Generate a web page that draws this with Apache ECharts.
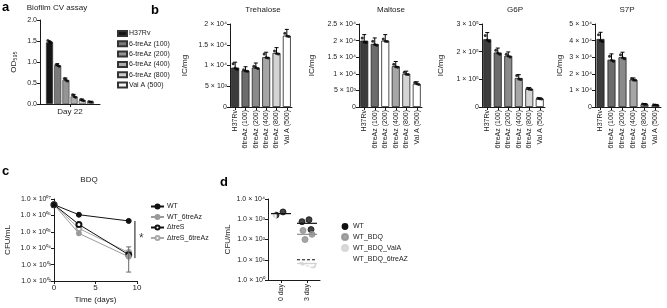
<!DOCTYPE html>
<html><head><meta charset="utf-8">
<script src="https://cdn.jsdelivr.net/npm/echarts@6/dist/echarts.min.js"></script>
<style>html,body{margin:0;padding:0;background:#fff}#c{width:667px;height:308px}</style>
</head><body><div id="c"></div>
<script>
// ---------- Panel a: Biofilm CV assay ----------
const aCategory = ['Day 22'];
const aNames = ['H37Rv', '6-treAz (100)', '6-treAz (200)', '6-treAz (400)', '6-treAz (800)', 'Val A (500)'];
const aMeans = [1.47, 0.92, 0.57, 0.18, 0.09, 0.05];
const aSD = [0.03, 0.04, 0.05, 0.05, 0.03, 0.01];
const aReps = [[1.51, 1.48, 1.47], [0.94, 0.92, 0.90], [0.61, 0.57, 0.55], [0.22, 0.18, 0.16], [0.11, 0.09, 0.08], [0.06, 0.05, 0.05]];
const aYTickLabels = ['0.0', '0.5', '1.0', '1.5', '2.0'];

// ---------- Panel b ----------
const bCats = ['H37Rv', '6treAz (100)', '6treAz (200)', '6treAz (400)', '6treAz (800)', 'Val A (500)'];
const treMeans = [9500, 8800, 9500, 12000, 13000, 17200];
const treSD = [1300, 900, 1100, 1200, 1300, 1500];
const treReps = [[10400, 9400, 9100], [9000, 8700, 8600], [9800, 9500, 9300], [12800, 11900, 11800], [13500, 12900, 12800], [17800, 17100, 17000]];
const treTickLabels = ['0', '5 × 10³', '1 × 10⁴', '1.5 × 10⁴', '2 × 10⁴'];

const malMeans = [20000, 19000, 20000, 12300, 10000, 7000];
const malSD = [1800, 1800, 1800, 1400, 800, 600];
const malReps = [[20800, 19600, 19400], [19800, 18800, 18600], [20500, 19800, 19700], [12900, 12100, 12000], [10500, 9900, 9800], [7400, 7000, 6800]];
const malTickLabels = ['0', '5 × 10³', '1 × 10⁴', '1.5 × 10⁴', '2 × 10⁴', '2.5 × 10⁴'];

const g6pMeans = [245000, 197000, 185000, 105000, 65000, 30000];
const g6pSD = [24000, 16000, 14000, 12000, 5000, 3000];
const g6pReps = [[258000, 242000, 238000], [205000, 195000, 191000], [191000, 184000, 181000], [114000, 101000, 99000], [68000, 64000, 63000], [32000, 30000, 29000]];
const g6pTickLabels = ['0', '1 × 10⁵', '2 × 10⁵', '3 × 10⁵'];

const s7pMeans = [41000, 28500, 30000, 16500, 1600, 1200];
const s7pSD = [4000, 3500, 3000, 1000, 500, 300];
const s7pReps = [[43500, 40000, 39500], [30500, 28200, 27600], [31500, 29600, 29000], [17200, 16300, 16100], [1800, 1500, 1500], [1300, 1200, 1100]];
const s7pTickLabels = ['0', '1 × 10⁴', '2 × 10⁴', '3 × 10⁴', '4 × 10⁴', '5 × 10⁴'];

// ---------- Panel c: BDQ ----------
const cDays = [0, 3, 9];
const cWT = [4.5e6, 1.1e6, 4.6e5];
const cWT6 = [4.5e6, 8.0e4, 3.0e3];
const cTreS = [4.5e6, 2.8e5, 4.0e3];
const cTreS6 = [4.5e6, 1.6e5, 5.5e3];
const cErrDay = 9;
const cErrRange = [350, 1.2e4];
const cSigX = 9.75;
const cSigRange = [4.6e5, 2.5e3];
const cSigStarY = 4.0e4;
const cYTickLabels = ['1.0 × 10⁰²', '1.0 × 10⁰³', '1.0 × 10⁰⁴', '1.0 × 10⁰⁵', '1.0 × 10⁰⁶', '1.0 × 10⁰⁷'];
const cNames = ['WT', 'WT_6treAz', 'ΔtreS', 'ΔtreS_6treAz'];

// ---------- Panel d ----------
const dCats = ['0 day', '3 day'];
const dNames = ['WT', 'WT_BDQ', 'WT_BDQ_ValA', 'WT_BDQ_6treAZ'];
const dWT = { '0 day': [2300, 1600], '3 day': [950, 760, 310] };
const dBDQ = { '0 day': [], '3 day': [280, 180, 100] };
const dValA = { '0 day': [], '3 day': [7.5, 6.5, 5.5] };
const d6tre = { '0 day': [1450], '3 day': [12, 8.5, 7] };
const dWTMed = [1900, 630];
const dBDQMed = [null, 180];
const dValAMed = [null, 6.5];
const d6treMed = [null, 10];
const dYTickLabels = ['1.0 × 10⁰', '1.0 × 10¹', '1.0 × 10²', '1.0 × 10³', '1.0 × 10⁴'];

// ---------- styles ----------
const FF = 'Liberation Sans, Arial, Helvetica, sans-serif';
const INK = '#1a1a1a';
const axLine = { show: true, lineStyle: { color: INK, width: 1 } };
const axTick = { show: true, length: 3, lineStyle: { color: INK, width: 1 } };
const lbl = (extra) => Object.assign({ fontSize: 7, color: '#222', fontFamily: FF, margin: 3, overflow: 'none', hideOverlap: false }, extra || {});
const aColors = ['#161616', '#7a7a7a', '#959595', '#adadad', '#cfcfcf', '#f4f4f4'];
const bColors = ['#3c3c3c', '#6c6c6c', '#8a8a8a', '#a6a6a6', '#d4d4d4', '#ffffff'];
const jit = [-2, 0, 2];

function valAxis(gi, min, max, interval, labels, name, nameGap, offset) {
  return {
    type: 'value', gridIndex: gi, min, max, interval,
    axisLine: axLine, axisTick: axTick, splitLine: { show: false },
    axisLabel: lbl({ formatter: v => labels[Math.round((v - min) / interval)] }),
    name, nameLocation: 'middle', nameGap, nameRotate: 90,
    nameTextStyle: { fontSize: 8, fontFamily: FF, color: '#222' },
    offset: offset || 0
  };
}
function logAxis(gi, min, max, labels, name, nameGap) {
  const e0 = Math.round(Math.log10(min));
  return {
    type: 'log', logBase: 10, gridIndex: gi, min, max,
    axisLine: axLine, axisTick: axTick, splitLine: { show: false }, minorTick: { show: false },
    axisLabel: lbl({ formatter: v => labels[Math.round(Math.log10(v)) - e0] }),
    name, nameLocation: 'middle', nameGap, nameRotate: 90,
    nameTextStyle: { fontSize: 8, fontFamily: FF, color: '#222' }
  };
}
function errRender(capW, offStep, offCenter) {
  return function (params, api) {
    const x = api.value(0), m = api.value(1), s = api.value(2);
    const off = offStep ? (api.value(3) - offCenter) * offStep : 0;
    const p0 = api.coord([x, m]), p1 = api.coord([x, m + s]);
    const xx = p0[0] + off;
    return { type: 'group', children: [
      { type: 'line', shape: { x1: xx, y1: p0[1], x2: xx, y2: p1[1] }, style: { stroke: '#000', lineWidth: 1 } },
      { type: 'line', shape: { x1: xx - capW, y1: p1[1], x2: xx + capW, y2: p1[1] }, style: { stroke: '#000', lineWidth: 1 } }
    ] };
  };
}

const series = [];
// Panel a bars
aNames.forEach((n, i) => {
  series.push({ type: 'bar', name: n, xAxisIndex: 0, yAxisIndex: 0, barWidth: 7, barGap: '17%',
    data: [aMeans[i]], itemStyle: { color: aColors[i], borderColor: '#333', borderWidth: 0.6 } });
});
series.push({ type: 'custom', xAxisIndex: 0, yAxisIndex: 0, z: 5, renderItem: errRender(1.5, 8.2, 2.5),
  data: aMeans.map((m, i) => [0, m, aSD[i], i]) });
aReps.forEach((reps, i) => {
  series.push({ type: 'scatter', xAxisIndex: 0, yAxisIndex: 0, z: 6, symbolSize: 3, itemStyle: { color: '#000' },
    data: reps.map((v, k) => ({ value: [0, v], symbolOffset: [(i - 2.5) * 8.2 + jit[k] * 0.8, 0] })) });
});

// Panel b
const bPanels = [
  { means: treMeans, sd: treSD, reps: treReps },
  { means: malMeans, sd: malSD, reps: malReps },
  { means: g6pMeans, sd: g6pSD, reps: g6pReps },
  { means: s7pMeans, sd: s7pSD, reps: s7pReps }
];
bPanels.forEach((p, k) => {
  const gi = k + 1;
  series.push({ type: 'bar', xAxisIndex: gi, yAxisIndex: gi, barWidth: 8,
    data: p.means.map((v, i) => ({ value: v, itemStyle: { color: (k === 1 && i === 2) ? '#ffffff' : bColors[i] } })),
    itemStyle: { borderColor: '#222', borderWidth: 0.8 } });
  series.push({ type: 'custom', xAxisIndex: gi, yAxisIndex: gi, z: 5, renderItem: errRender(2),
    data: p.means.map((m, i) => [i, m, p.sd[i]]) });
  series.push({ type: 'scatter', xAxisIndex: gi, yAxisIndex: gi, z: 6, symbolSize: 3, itemStyle: { color: '#000' },
    data: p.reps.flatMap((r, i) => r.map((v, j) => ({ value: [i, v], symbolOffset: [jit[j], 0] }))) });
});

// Panel c lines
const cStyles = [
  { color: '#111', symbol: 'circle', line: '#111' },
  { color: '#9a9a9a', symbol: 'circle', line: '#9a9a9a' },
  { color: '#111', symbol: 'emptyCircle', line: '#111' },
  { color: '#a8a8a8', symbol: 'emptyCircle', line: '#a8a8a8' }
];
[cWT, cWT6, cTreS, cTreS6].forEach((arr, i) => {
  const st = cStyles[i];
  series.push({ type: 'line', name: cNames[i], xAxisIndex: 5, yAxisIndex: 5, symbol: st.symbol, symbolSize: 5,
    lineStyle: { color: st.line, width: 1 }, itemStyle: { color: st.color, borderColor: st.line, borderWidth: 1 },
    data: cDays.map((d, j) => [d, arr[j]]), z: 6 - i });
});
series.push({ type: 'custom', xAxisIndex: 5, yAxisIndex: 5, z: 8, data: [[cErrDay, cErrRange[0], cErrRange[1]]],
  renderItem: (params, api) => {
    const p0 = api.coord([api.value(0), api.value(1)]), p1 = api.coord([api.value(0), api.value(2)]);
    const st = { stroke: '#666', lineWidth: 1 };
    return { type: 'group', children: [
      { type: 'line', shape: { x1: p0[0], y1: p0[1], x2: p1[0], y2: p1[1] }, style: st },
      { type: 'line', shape: { x1: p0[0] - 2.5, y1: p0[1], x2: p0[0] + 2.5, y2: p0[1] }, style: st },
      { type: 'line', shape: { x1: p1[0] - 2.5, y1: p1[1], x2: p1[0] + 2.5, y2: p1[1] }, style: st }
    ] };
  } });
series.push({ type: 'line', xAxisIndex: 5, yAxisIndex: 5, symbol: 'none', silent: true,
  lineStyle: { color: '#111', width: 1 }, data: [[cSigX, cSigRange[0]], [cSigX, cSigRange[1]]] });
series.push({ type: 'scatter', xAxisIndex: 5, yAxisIndex: 5, symbolSize: 0, silent: true, data: [[cSigX, cSigStarY]],
  label: { show: true, formatter: '*', position: 'right', distance: 4, fontSize: 12, fontFamily: FF, color: '#111' } });

// Panel d scatter
const dSets = [dWT, dBDQ, dValA, d6tre];
const dStyles = [
  { symbol: 'circle', color: '#111', border: '#111' },
  { symbol: 'circle', color: '#8e8e8e', border: '#8e8e8e' },
  { symbol: 'circle', color: '#d2d2d2', border: '#d2d2d2' },
  { symbol: 'emptyCircle', color: '#fff', border: '#111' }
];
const dJit = [[2, -5, 4], [-4, 5, -2], [-4, 2, 6], [-6, 0, 4]];
dSets.forEach((set, i) => {
  const st = dStyles[i];
  const data = [];
  dCats.forEach((c, ci) => set[c].forEach((v, j) => data.push({ value: [ci, v], symbolOffset: [dJit[i][j] + (ci === 0 && i === 3 ? -2 : 0), 0] })));
  series.push({ type: 'scatter', name: dNames[i], xAxisIndex: 6, yAxisIndex: 6, symbol: st.symbol, symbolSize: 6,
    itemStyle: { color: st.color, borderColor: st.border, borderWidth: 1 }, data, z: 3 + (i === 3 ? 1 : 0) });
});
const dMedSets = [dWTMed, dBDQMed, dValAMed, d6treMed];
const dMedStyles = [{ c: '#111', dash: null }, { c: '#8e8e8e', dash: null }, { c: '#d2d2d2', dash: null }, { c: '#111', dash: [3, 2] }];
dMedSets.forEach((meds, i) => {
  series.push({ type: 'custom', xAxisIndex: 6, yAxisIndex: 6, z: 7,
    data: meds.map((m, ci) => [ci, m]).filter(d => d[1] !== null),
    renderItem: (params, api) => {
      const p = api.coord([api.value(0), api.value(1)]);
      return { type: 'line', shape: { x1: p[0] - 10, y1: p[1], x2: p[0] + 10, y2: p[1] },
        style: { stroke: dMedStyles[i].c, lineWidth: 1.2, lineDash: dMedStyles[i].dash } };
    } });
});

const bXAxis = (gi) => ({ type: 'category', gridIndex: gi, data: bCats, axisLine: axLine,
  axisTick: Object.assign({ alignWithLabel: true }, axTick),
  axisLabel: lbl({ rotate: 90, interval: 0, margin: 3, width: 80 }) });

const G = (l, t, w, h) => ({ left: l, top: t, width: w, height: h, containLabel: false, outerBoundsMode: 'none' });

const option = {
  animation: false,
  textStyle: { fontFamily: FF },
  grid: [
    G(40, 20, 60, 84),
    G(230, 24, 62, 83),
    G(359, 24, 63, 83),
    G(482, 24, 63, 83),
    G(595, 24, 66, 83),
    G(54, 199, 83, 82),
    G(268, 199, 52, 81)
  ],
  xAxis: [
    { type: 'category', gridIndex: 0, data: aCategory, axisLine: axLine, axisTick: Object.assign({ alignWithLabel: true }, axTick),
      axisLabel: lbl({ fontSize: 8, margin: 4 }) },
    bXAxis(1), bXAxis(2), bXAxis(3), bXAxis(4),
    { type: 'value', gridIndex: 5, min: 0, max: 10, interval: 5, axisLine: axLine, axisTick: axTick, splitLine: { show: false },
      axisLabel: lbl({ fontSize: 8 }), name: 'Time (days)', nameLocation: 'middle', nameGap: 15,
      nameTextStyle: { fontSize: 8, fontFamily: FF, color: '#222' } },
    { type: 'category', gridIndex: 6, data: dCats, axisLine: axLine, axisTick: Object.assign({ alignWithLabel: true }, axTick),
      axisLabel: lbl({ rotate: 90, interval: 0, margin: 4, width: 40 }) }
  ],
  yAxis: [
    valAxis(0, 0, 2, 0.5, aYTickLabels, 'OD₅₉₅', 22),
    valAxis(1, 0, 20000, 5000, treTickLabels, 'IC/mg', 41),
    valAxis(2, 0, 25000, 5000, malTickLabels, 'IC/mg', 43),
    valAxis(3, 0, 300000, 100000, g6pTickLabels, 'IC/mg', 37),
    valAxis(4, 0, 50000, 10000, s7pTickLabels, 'IC/mg', 31),
    logAxis(5, 1e2, 1e7, cYTickLabels, 'CFU/mL', 42),
    logAxis(6, 1, 1e4, dYTickLabels, 'CFU/mL', 36)
  ],
  legend: [
    { data: aNames, orient: 'vertical', left: 112, top: 25, icon: 'rect', itemWidth: 9, itemHeight: 5, itemGap: 3.3,
      textStyle: { fontSize: 7, fontFamily: FF, color: '#222', padding: [0, 0, 0, -3] } },
    { data: cNames, orient: 'vertical', left: 145, top: 198, itemWidth: 13, itemHeight: 5, itemGap: 3.5,
      textStyle: { fontSize: 7, fontFamily: FF, color: '#222', padding: [0, 0, 0, -2] } },
    { data: dNames, orient: 'vertical', left: 336, top: 218, itemWidth: 6, itemHeight: 6, itemGap: 3,
      textStyle: { fontSize: 7, fontFamily: FF, color: '#222' } }
  ],
  graphic: [
    { type: 'text', left: 2, top: 1, style: { text: 'a', font: 'bold 13px ' + FF, fill: '#000' } },
    { type: 'text', x: 57, y: 4, style: { text: 'Biofilm CV assay', font: '8px ' + FF, fill: '#222', textAlign: 'center' } },
    { type: 'text', left: 151, top: 4, style: { text: 'b', font: 'bold 13px ' + FF, fill: '#000' } },
    { type: 'text', x: 263, y: 6, style: { text: 'Trehalose', font: '8px ' + FF, fill: '#222', textAlign: 'center' } },
    { type: 'text', x: 391, y: 6, style: { text: 'Maltose', font: '8px ' + FF, fill: '#222', textAlign: 'center' } },
    { type: 'text', x: 515, y: 6, style: { text: 'G6P', font: '8px ' + FF, fill: '#222', textAlign: 'center' } },
    { type: 'text', x: 627, y: 6, style: { text: 'S7P', font: '8px ' + FF, fill: '#222', textAlign: 'center' } },
    { type: 'text', left: 2, top: 165, style: { text: 'c', font: 'bold 13px ' + FF, fill: '#000' } },
    { type: 'text', x: 89, y: 176, style: { text: 'BDQ', font: '8px ' + FF, fill: '#222', textAlign: 'center' } },
    { type: 'text', left: 220, top: 176, style: { text: 'd', font: 'bold 13px ' + FF, fill: '#000' } }
  ],
  series
};
const chart = echarts.init(document.getElementById('c'), null, { renderer: 'canvas' });
chart.setOption(option);
</script></body></html>
